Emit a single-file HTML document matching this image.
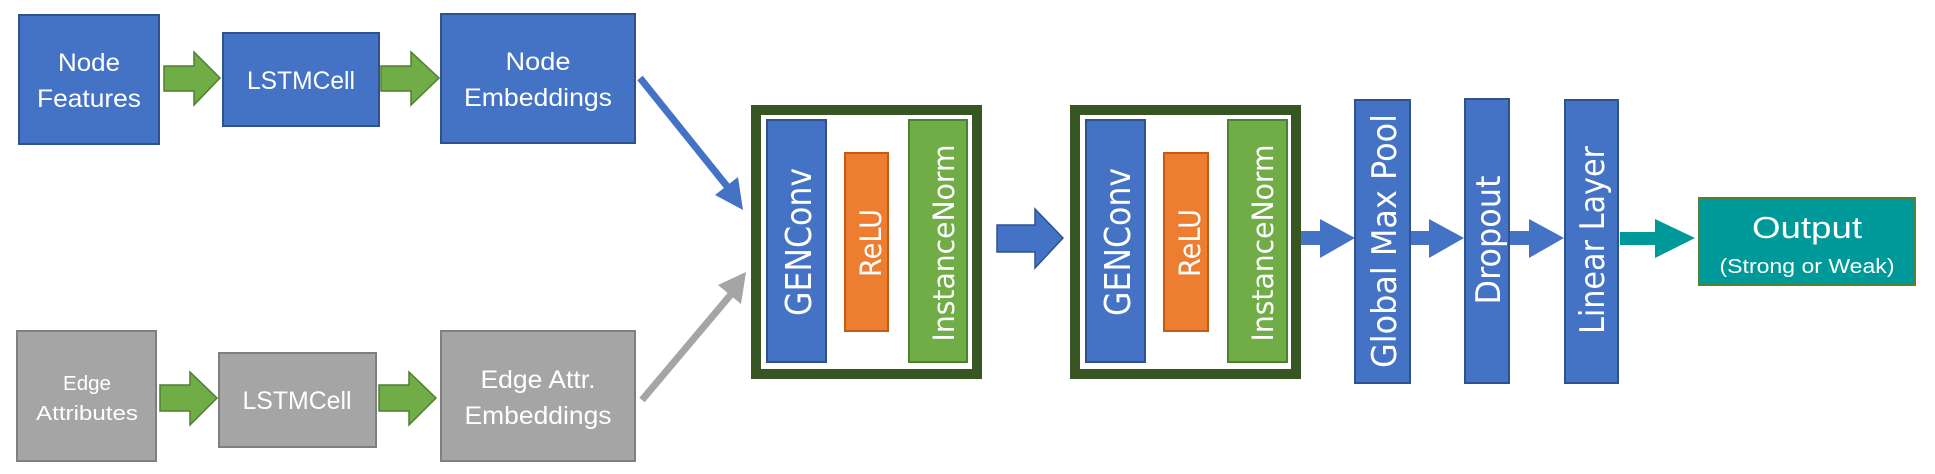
<!DOCTYPE html>
<html><head><meta charset="utf-8"><style>
html,body{margin:0;padding:0;background:#fff;}
svg{display:block;}
.t{font-family:"Liberation Sans",sans-serif;fill:#fff;text-anchor:middle;}
.v{font-family:"DejaVu Sans","Liberation Sans",sans-serif;fill:#fff;text-anchor:middle;}
</style></head><body>
<svg width="1935" height="474" viewBox="0 0 1935 474" xmlns="http://www.w3.org/2000/svg">
<!-- top row -->
<rect x="19" y="15" width="140" height="129" fill="#4472c4" stroke="#2f528f" stroke-width="2"/>
<text class="t" x="89" y="71" font-size="25" textLength="62" lengthAdjust="spacingAndGlyphs">Node</text>
<text class="t" x="89" y="107" font-size="25" textLength="104" lengthAdjust="spacingAndGlyphs">Features</text>
<polygon points="164,66 194,66 194,52 220,78 194,105 194,91 164,91" fill="#70ad47" stroke="#507e32" stroke-width="1.5"/>
<rect x="223" y="33" width="156" height="93" fill="#4472c4" stroke="#2f528f" stroke-width="2"/>
<text class="t" x="301" y="89" font-size="25" textLength="108" lengthAdjust="spacingAndGlyphs">LSTMCell</text>
<polygon points="381,66 411,66 411,52 439,78 411,105 411,91 381,91" fill="#70ad47" stroke="#507e32" stroke-width="1.5"/>
<rect x="441" y="14" width="194" height="129" fill="#4472c4" stroke="#2f528f" stroke-width="2"/>
<text class="t" x="538" y="70" font-size="25" textLength="65" lengthAdjust="spacingAndGlyphs">Node</text>
<text class="t" x="538" y="106" font-size="25" textLength="148" lengthAdjust="spacingAndGlyphs">Embeddings</text>
<!-- bottom row -->
<rect x="17" y="331" width="139" height="130" fill="#a5a5a5" stroke="#7f7f7f" stroke-width="2"/>
<text class="t" x="87" y="390" font-size="20" textLength="48" lengthAdjust="spacingAndGlyphs">Edge</text>
<text class="t" x="87" y="420" font-size="20" textLength="102" lengthAdjust="spacingAndGlyphs">Attributes</text>
<polygon points="160,385 190,385 190,372 217,398 190,425 190,411 160,411" fill="#70ad47" stroke="#507e32" stroke-width="1.5"/>
<rect x="219" y="353" width="157" height="94" fill="#a5a5a5" stroke="#7f7f7f" stroke-width="2"/>
<text class="t" x="297" y="409" font-size="25" textLength="109" lengthAdjust="spacingAndGlyphs">LSTMCell</text>
<polygon points="379,385 409,385 409,372 436,398 409,425 409,411 379,411" fill="#70ad47" stroke="#507e32" stroke-width="1.5"/>
<rect x="441" y="331" width="194" height="130" fill="#a5a5a5" stroke="#7f7f7f" stroke-width="2"/>
<text class="t" x="538" y="388" font-size="25" textLength="115" lengthAdjust="spacingAndGlyphs">Edge Attr.</text>
<text class="t" x="538" y="424" font-size="25" textLength="147" lengthAdjust="spacingAndGlyphs">Embeddings</text>
<!-- diagonal arrows -->
<line x1="640" y1="78" x2="730" y2="190" stroke="#4472c4" stroke-width="7"/>
<polygon points="743,210 715,195 738,177" fill="#4472c4"/>
<line x1="642" y1="400" x2="733" y2="292" stroke="#a5a5a5" stroke-width="7"/>
<polygon points="746,272 741,304 718,285" fill="#a5a5a5"/>
<!-- block 1 -->
<rect x="756" y="110" width="221" height="264" fill="#fff" stroke="#375623" stroke-width="10"/>
<rect x="767" y="120" width="59" height="242" fill="#4472c4" stroke="#2f528f" stroke-width="2"/>
<rect x="845" y="153" width="43" height="178" fill="#ed7d31" stroke="#c55a11" stroke-width="2"/>
<rect x="909" y="120" width="58" height="242" fill="#70ad47" stroke="#507e32" stroke-width="2"/>
<text class="v" font-size="36" textLength="148" lengthAdjust="spacingAndGlyphs" transform="translate(811,242) rotate(-90)">GENConv</text>
<text class="v" font-size="29" textLength="68" lengthAdjust="spacingAndGlyphs" transform="translate(881,243) rotate(-90)">ReLU</text>
<text class="v" font-size="29" textLength="197" lengthAdjust="spacingAndGlyphs" transform="translate(954,243) rotate(-90)">InstanceNorm</text>
<!-- big arrow -->
<polygon points="997,225 1035,225 1035,209 1063,238 1035,268 1035,252 997,252" fill="#4472c4" stroke="#2f528f" stroke-width="1.5"/>
<!-- block 2 -->
<rect x="1075" y="110" width="221" height="264" fill="#fff" stroke="#375623" stroke-width="10"/>
<rect x="1086" y="120" width="59" height="242" fill="#4472c4" stroke="#2f528f" stroke-width="2"/>
<rect x="1164" y="153" width="44" height="178" fill="#ed7d31" stroke="#c55a11" stroke-width="2"/>
<rect x="1228" y="120" width="59" height="242" fill="#70ad47" stroke="#507e32" stroke-width="2"/>
<text class="v" font-size="36" textLength="148" lengthAdjust="spacingAndGlyphs" transform="translate(1130,242) rotate(-90)">GENConv</text>
<text class="v" font-size="29" textLength="68" lengthAdjust="spacingAndGlyphs" transform="translate(1200,243) rotate(-90)">ReLU</text>
<text class="v" font-size="29" textLength="197" lengthAdjust="spacingAndGlyphs" transform="translate(1273,243) rotate(-90)">InstanceNorm</text>
<!-- small arrows -->
<polygon points="1301,231 1320,231 1320,219 1355,238 1320,258 1320,245 1301,245" fill="#4472c4"/>
<polygon points="1410,231 1429,231 1429,219 1464,238 1429,258 1429,245 1410,245" fill="#4472c4"/>
<polygon points="1510,231 1529,231 1529,219 1564,238 1529,258 1529,245 1510,245" fill="#4472c4"/>
<!-- vertical layers -->
<rect x="1355" y="100" width="55" height="283" fill="#4472c4" stroke="#2f528f" stroke-width="2"/>
<text class="v" font-size="34" textLength="254" lengthAdjust="spacingAndGlyphs" transform="translate(1396,241) rotate(-90)">Global Max Pool</text>
<rect x="1465" y="99" width="44" height="284" fill="#4472c4" stroke="#2f528f" stroke-width="2"/>
<text class="v" font-size="34" textLength="129" lengthAdjust="spacingAndGlyphs" transform="translate(1500,240) rotate(-90)">Dropout</text>
<rect x="1565" y="100" width="53" height="283" fill="#4472c4" stroke="#2f528f" stroke-width="2"/>
<text class="v" font-size="34" textLength="188" lengthAdjust="spacingAndGlyphs" transform="translate(1604,240) rotate(-90)">Linear Layer</text>
<!-- teal arrow -->
<polygon points="1620,232 1655,232 1655,219 1695,238 1655,258 1655,245 1620,245" fill="#009999"/>
<rect x="1699" y="198" width="216" height="87" fill="#009999" stroke="#548235" stroke-width="2"/>
<text class="t" x="1807" y="238" font-size="31" textLength="110" lengthAdjust="spacingAndGlyphs">Output</text>
<text class="t" x="1807" y="273" font-size="20" textLength="175" lengthAdjust="spacingAndGlyphs">(Strong or Weak)</text>
</svg>
</body></html>
